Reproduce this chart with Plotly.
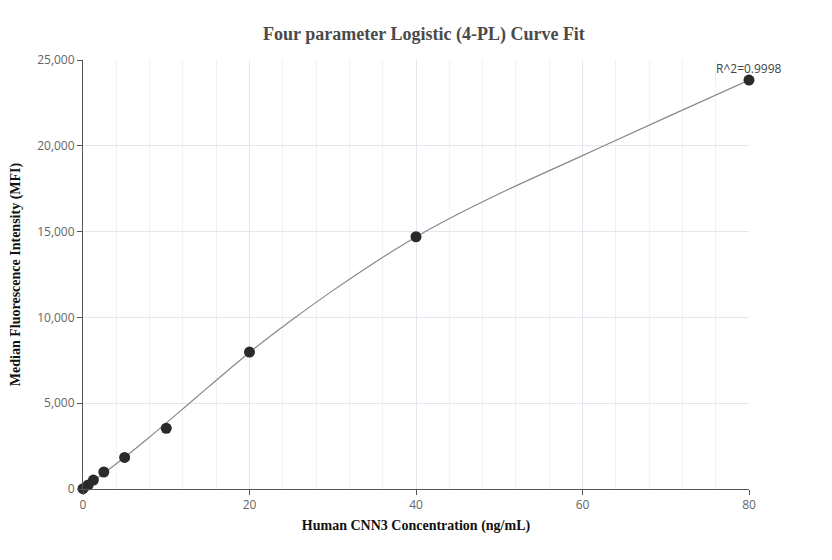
import plotly.graph_objects as go

# standards: concentration (ng/mL) and measured MFI
conc = [0, 0.625, 1.25, 2.5, 5, 10, 20, 40, 80]
mfi = [20, 240, 520, 990, 1840, 3540, 7980, 14700, 23830]

# fitted 4-PL curve
curve_x = [0, 2.5, 5, 7.5, 10, 12.5, 15, 17.5, 20, 25, 30, 35, 40, 45, 50, 60, 70, 80]
curve_y = [0, 910, 1850, 2830, 3840, 4880, 5920, 6950, 7960, 9820, 11560, 13190,
           14690, 16010, 17210, 19430, 21640, 23830]

r2_text = "R^2=0.9998"

fig = go.Figure()

fig.add_trace(go.Scatter(
    x=curve_x, y=curve_y, mode="lines",
    line=dict(color="#888888", width=1.2, shape="spline", smoothing=1.0),
    hoverinfo="skip", showlegend=False,
))

fig.add_trace(go.Scatter(
    x=conc, y=mfi, mode="markers", cliponaxis=False,
    marker=dict(color="#2a2a2a", size=11),
    showlegend=False,
))

fig.add_annotation(
    x=conc[-1], y=mfi[-1], text=r2_text, showarrow=False,
    yshift=12, font=dict(family="Open Sans", size=12, color="#444444"),
)

fig.update_layout(
    width=832, height=560,
    margin=dict(l=75, r=91, t=52, b=79),
    paper_bgcolor="white", plot_bgcolor="white",
    title=dict(
        text="<b>Four parameter Logistic (4-PL) Curve Fit</b>",
        x=0.5, xanchor="center", y=0.955, yanchor="middle",
        font=dict(family="Liberation Serif", size=18, color="#4a4a4a"),
    ),
    font=dict(family="Open Sans", size=12, color="#666666"),
)

fig.update_xaxes(
    range=[0, 80], dtick=20, tick0=0, automargin=False,
    showline=True, linecolor="#555555", linewidth=1,
    ticks="outside", ticklen=5, tickcolor="#555555",
    showgrid=True, gridcolor="#e3e6ef", gridwidth=1,
    minor=dict(dtick=4, showgrid=True, gridcolor="#f1f2f7", ticks=""),
    zeroline=False,
    title=dict(text="<b>Human CNN3 Concentration (ng/mL)</b>",
               font=dict(family="Liberation Serif", size=14, color="#111111"),
               standoff=7),
)

fig.update_yaxes(
    range=[0, 25000], dtick=5000, tickformat=",", automargin=False,
    showline=True, linecolor="#555555", linewidth=1,
    ticks="outside", ticklen=5, tickcolor="#555555",
    showgrid=True, gridcolor="#e3e6ef", gridwidth=1,
    zeroline=False,
    title=dict(text="<b>Median Fluorescence Intensity (MFI)</b>",
               font=dict(family="Liberation Serif", size=14, color="#111111"),
               standoff=18),
)

fig.write_html("out.html")
